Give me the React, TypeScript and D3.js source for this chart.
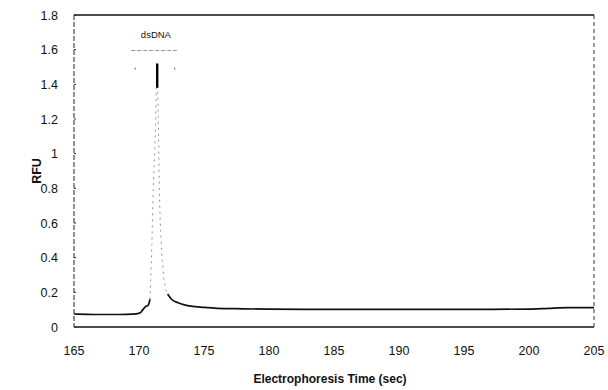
import React from "react";
import * as d3 from "d3";

// Electropherogram trace: time (sec) vs RFU
const baseTimes = [165, 166, 167, 168, 169, 169.8, 170.1, 170.3, 170.5, 170.7, 170.85];
const baseRfu = [0.075, 0.073, 0.072, 0.072, 0.073, 0.076, 0.082, 0.1, 0.118, 0.125, 0.16];

const peakTimes = [170.85, 170.98, 171.1, 171.25, 171.4, 171.5, 171.58, 171.7, 171.85, 172.05, 172.2];
const peakRfu = [0.16, 0.45, 0.8, 1.1, 1.52, 1.1, 0.75, 0.5, 0.33, 0.22, 0.19];

const tailTimes = [172.2, 172.5, 173, 173.5, 174, 175, 176, 178, 180, 185, 190, 195, 200, 201.5, 203, 205];
const tailRfu = [0.19, 0.16, 0.14, 0.128, 0.12, 0.113, 0.108, 0.105, 0.103, 0.102, 0.102, 0.102, 0.103, 0.108, 0.112, 0.112];

// Bold apex of the dsDNA peak
const apexTime = 171.4;
const apexRange = [1.38, 1.52];

const xTicks = [165, 170, 175, 180, 185, 190, 195, 200, 205];
const yTicks = [0, 0.2, 0.4, 0.6, 0.8, 1, 1.2, 1.4, 1.6, 1.8];

const peakLabel = "dsDNA";
const bracketTimes = [169.4, 172.9];
const bracketLevel = 1.595;

const W = 608;
const H = 390;
const margin = { left: 74, right: 14, top: 15, bottom: 63 };

export default function App() {
  const x = d3.scaleLinear().domain([165, 205]).range([margin.left, W - margin.right]);
  const y = d3.scaleLinear().domain([0, 1.8]).range([H - margin.bottom, margin.top]);

  const line = d3
    .line<[number, number]>()
    .x((d) => x(d[0]))
    .y((d) => y(d[1]))
    .curve(d3.curveMonotoneX);

  const zip = (t: number[], v: number[]) => t.map((ti, i) => [ti, v[i]] as [number, number]);

  const font = "'Liberation Sans', Arial, sans-serif";
  const x0 = x(165);
  const x1 = x(205);
  const yTop = y(1.8);
  const yBot = y(0);

  return (
    <svg
      width={W}
      height={H}
      style={{ position: "absolute", left: 0, top: 0, background: "#fff" }}
      fontFamily={font}
    >
      {/* frame */}
      <line x1={x0} x2={x1} y1={yTop} y2={yTop} stroke="#111" strokeWidth={1.5} />
      <line x1={x0} x2={x1} y1={yBot} y2={yBot} stroke="#111" strokeWidth={1.6} />
      <line x1={x0} x2={x0} y1={yTop} y2={yBot} stroke="#222" strokeWidth={1} strokeDasharray="5,2" />
      <line x1={x1} x2={x1} y1={yTop} y2={yBot} stroke="#333" strokeWidth={1} strokeDasharray="4,3" />

      {/* y ticks */}
      {yTicks.map((t) => (
        <g key={"y" + t}>
          <line x1={x0} x2={x0 + 2} y1={y(t)} y2={y(t)} stroke="#222" />
          <text x={58} y={y(t)} dy="0.36em" textAnchor="end" fontSize={12.5} fill="#111">
            {d3.format("~g")(t)}
          </text>
        </g>
      ))}

      {/* x ticks */}
      {xTicks.map((t) => (
        <text key={"x" + t} x={x(t)} y={355} textAnchor="middle" fontSize={12.5} fill="#111">
          {t}
        </text>
      ))}

      {/* axis titles */}
      <text x={(x0 + x1) / 2 - 4} y={383} textAnchor="middle" fontSize={12} fontWeight="bold" fill="#111">
        Electrophoresis Time (sec)
      </text>
      <text
        transform={`translate(41, ${(yTop + yBot) / 2}) rotate(-90)`}
        textAnchor="middle"
        fontSize={12.5}
        fontWeight="bold"
        fill="#111"
      >
        RFU
      </text>

      {/* trace */}
      <path d={line(zip(baseTimes, baseRfu)) || ""} fill="none" stroke="#111" strokeWidth={1.7} />
      <path
        d={line(zip(peakTimes, peakRfu)) || ""}
        fill="none"
        stroke="#888"
        strokeWidth={0.9}
        strokeDasharray="2,4"
      />
      <path d={line(zip(tailTimes, tailRfu)) || ""} fill="none" stroke="#111" strokeWidth={1.7} />
      <line
        x1={x(apexTime)}
        x2={x(apexTime)}
        y1={y(apexRange[0])}
        y2={y(apexRange[1])}
        stroke="#000"
        strokeWidth={2.4}
      />

      {/* peak annotation */}
      <text x={x(171.3)} y={38} textAnchor="middle" fontSize={9.5} fill="#111">
        {peakLabel}
      </text>
      <line
        x1={x(bracketTimes[0])}
        x2={x(bracketTimes[1])}
        y1={y(bracketLevel)}
        y2={y(bracketLevel)}
        stroke="#777"
        strokeWidth={0.8}
        strokeDasharray="4,2"
      />
      {bracketTimes.map((t, i) => (
        <line
          key={"b" + i}
          x1={x(t) + (i === 0 ? 4 : -2)}
          x2={x(t) + (i === 0 ? 4 : -2)}
          y1={y(bracketLevel) + 17}
          y2={y(bracketLevel) + 19}
          stroke="#666"
          strokeWidth={1}
        />
      ))}
    </svg>
  );
}
